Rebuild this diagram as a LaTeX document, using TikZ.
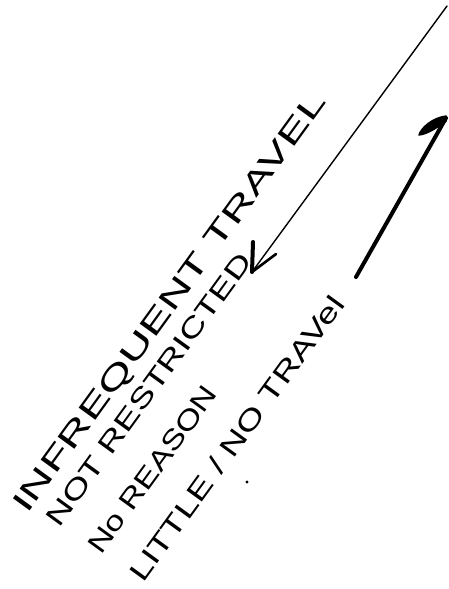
\documentclass[tikz,border=0pt]{standalone}
\usepackage{fontspec}
\setmainfont{Liberation Sans}
\usepackage{graphicx}
\begin{document}
\begin{tikzpicture}[x=1pt,y=-1pt,
  hw/.style={anchor=base west, inner sep=0pt, rotate=54},
  thinarrow/.style={line width=1.4pt, line cap=round},
  thickarrow/.style={line width=4pt, line cap=round}]
\useasboundingbox (0,0) rectangle (448,589);
\fill[white] (0,0) rectangle (448,589);
% text lines
\node[hw] (l1) at (27,515) {\resizebox{510pt}{21pt}{INFREQUENT TRAVEL}};
\node[hw] (l2) at (59,529) {\resizebox{330pt}{19pt}{NOT RESTRICTED}};
\node[hw] (l3) at (101,556) {\resizebox{200pt}{19pt}{No REASON}};
\node[hw] (l4) at (143,584) {\resizebox{345pt}{20pt}{LITTLE / NO TRAVel}};
\fill (247,482) circle (1.6pt);
% thin arrow pointing down-left
\coordinate (a1s) at (447,6);
\coordinate (a1t) at (252,272);
\draw[thinarrow] (a1s) -- (a1t);
\draw[line width=4pt, line cap=round, line join=round] (253,242) -- (a1t);
\draw[line width=2.6pt, line cap=round, line join=round] (a1t) -- (276,254);
% thick arrow pointing up-right
\coordinate (a2s) at (356,277);
\coordinate (a2t) at (446,118);
\draw[thickarrow] (a2s) -- (a2t);
\filldraw[line width=1.5pt, line join=round] (446,116) .. controls (432,118) and (421,128) .. (419,135) .. controls (428,134) and (438,127) .. (446,121) -- cycle;
\end{tikzpicture}
\end{document}
